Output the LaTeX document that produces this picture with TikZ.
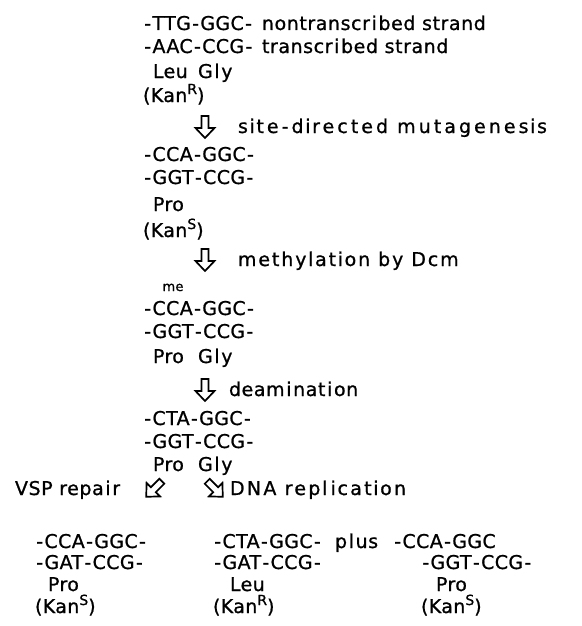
\documentclass[tikz,border=0pt]{standalone}
\usepackage{fontspec}
\setmainfont{DejaVu Sans}
% plotter-like lettering
\newfontfamily\plotf{DejaVu Sans}[LetterSpace=2, FakeBold=0.9]
% hyphens and narrow letters take a full-width cell
\newcommand\hy{\makebox[0.5em]{-}}
\newcommand\nr[1]{\makebox[0.45em]{#1}}
\newcommand\kan[1]{(Kan\raisebox{0.42em}{\fontsize{14}{14}\selectfont #1})}
\tikzset{
  seq/.style={anchor=base west, inner sep=0pt, outer sep=0pt,
    font=\fontsize{19}{19}\plotf},
  lab/.style={seq, font={\fontsize{19}{19}\plotf\addfontfeature{LetterSpace=#1}}},
  lab/.default=3,
  small/.style={anchor=base, inner sep=0pt, font=\fontsize{13}{13}\plotf},
  arrowline/.style={draw=black, line width=1.7pt, line join=miter, fill=white},
  hollow/.pic={\path[arrowline] (-3.5,-11) -- (3.5,-11) -- (3.5,1) -- (9.5,1)
      -- (0,11) -- (-9.5,1) -- (-3.5,1) -- cycle;}
}
\begin{document}
\begin{tikzpicture}[x=1pt, y=-1pt]
\useasboundingbox (0,0) rectangle (581,626);
% starting strands
\node[seq] (a1) at (143,30) {\hy TTG\hy GGC\hy};
\node[lab] (a1l) at (262,30) {nontranscr\nr{i}bed strand};
\node[seq] (a2) at (143,53) {\hy AAC\hy CCG\hy};
\node[lab] (a2l) at (262,53) {transcr\nr{i}bed strand};
\node[seq] (a3) at (153,78) {Leu};
\node[seq] (a3g) at (198,78) {G\nr{l}y};
\node[seq] (a4) at (143,102) {\kan{R}};
% site-directed mutagenesis
\pic at (205,127) {hollow};
\node[lab=16] (s1) at (238,133) {s\nr{i}te-d\nr{i}rected mutagenes\nr{i}s};
\node[seq] (b1) at (143,161) {\hy CCA\hy GGC\hy};
\node[seq] (b2) at (143,184) {\hy GGT\hy CCG\hy};
\node[seq] (b3) at (153,211) {Pro};
\node[seq] (b4) at (143,237) {\kan{S}};
% methylation
\pic at (205,260) {hollow};
\node[lab=10] (s2) at (238,266) {methy\nr{l}at\nr{i}on by Dcm};
\node[small] (me) at (173,291) {me};
\node[seq] (c1) at (143,315) {\hy CCA\hy GGC\hy};
\node[seq] (c2) at (143,338) {\hy GGT\hy CCG\hy};
\node[seq] (c3) at (153,363) {Pro};
\node[seq] (c3g) at (198,363) {G\nr{l}y};
% deamination
\pic at (205,390) {hollow};
\node[lab] (s3) at (229,396) {deam\nr{i}nat\nr{i}on};
\node[seq] (d1) at (143,425) {\hy CTA\hy GGC\hy};
\node[seq] (d2) at (143,448) {\hy GGT\hy CCG\hy};
\node[seq] (d3) at (153,471) {Pro};
\node[seq] (d3g) at (198,471) {G\nr{l}y};
% the two outcomes
\node[lab] (vsp) at (15,495) {VSP repa\nr{i}r};
\pic[rotate=-45] at (154,489) {hollow};
\pic[rotate=45] at (215,489) {hollow};
\node[lab=12] (rep) at (230,495) {DNA rep\nr{l}\nr{i}cat\nr{i}on};
% VSP repair product
\node[seq] (e1) at (35,548) {\hy CCA\hy GGC\hy};
\node[seq] (e2) at (35,569) {\hy GAT\hy CCG\hy};
\node[seq] (e3) at (48,591) {Pro};
\node[seq] (e4) at (35,613) {\kan{S}};
% replication products
\node[seq] (f1) at (213,548) {\hy CTA\hy GGC\hy};
\node[lab] (plus) at (335,548) {p\nr{l}us};
\node[seq] (f2) at (213,569) {\hy GAT\hy CCG\hy};
\node[seq] (f3) at (230,591) {Leu};
\node[seq] (f4) at (213,613) {\kan{R}};
\node[seq] (g1) at (393,548) {\hy CCA\hy GGC};
\node[seq] (g2) at (421,569) {\hy GGT\hy CCG\hy};
\node[seq] (g3) at (436,591) {Pro};
\node[seq] (g4) at (421,613) {\kan{S}};
\end{tikzpicture}
\end{document}
